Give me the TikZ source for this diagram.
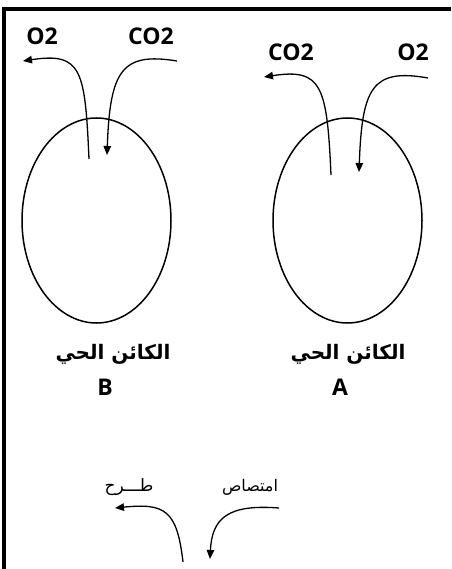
\documentclass[tikz,border=0pt]{standalone}
\usepackage{fontspec}
\setmainfont{Open Sans}
\newfontfamily\arabicfont[Script=Arabic]{DejaVu Sans}
\TeXXeTstate=1
\usetikzlibrary{shapes.geometric,arrows.meta}
\begin{document}
\begin{tikzpicture}[x=1pt,y=-1pt,
  organism/.style={draw,ellipse,line width=1.5pt,minimum width=149pt,minimum height=205pt,inner sep=0pt},
  gas/.style={font=\fontsize{23}{23}\selectfont\bfseries,inner sep=0pt},
  arlabel/.style={font=\arabicfont\fontsize{20}{20}\selectfont\bfseries,inner sep=0pt},
  letter/.style={font=\fontsize{23}{23}\selectfont\bfseries,inner sep=0pt},
  flow/.style={line width=1.3pt,-{Triangle[length=9pt,width=7.5pt]}}]
\useasboundingbox (0,0) rectangle (451,569);
\draw[line width=3.6pt] (4,569) -- (4,9) -- (451,9);
% organisms
\node[organism] (B) at (96.5,220.5) {};
\node[organism] (A) at (347.5,220.5) {};
% top labels
\node[gas] (bO2) at (42,36) {O2};
\node[gas] (bCO2) at (151,36) {CO2};
\node[gas] (aCO2) at (291,52) {CO2};
\node[gas] (aO2) at (413,52) {O2};
% organism labels
\node[arlabel] (bname) at (113,354) {\beginR الكائن الحي\endR};
\node[letter] (bletter) at (105,387) {B};
\node[arlabel] (aname) at (348,354) {\beginR الكائن الحي\endR};
\node[letter] (aletter) at (340,387) {A};
% arrows B
\coordinate (bOs) at (89,159);
\coordinate (bOe) at (23,61);
\coordinate (bCs) at (177,61);
\coordinate (bCe) at (107,155);
\draw[flow] (bOs) .. controls (85,70) and (82,52) .. (bOe);
\draw[flow] (bCs) .. controls (122,52) and (110,70) .. (bCe);
% arrows A
\coordinate (aCs) at (331,175);
\coordinate (aCe) at (264,77);
\coordinate (aOs) at (428,78);
\coordinate (aOe) at (359,172);
\draw[flow] (aCs) .. controls (327,86) and (322,68) .. (aCe);
\draw[flow] (aOs) .. controls (372,68) and (362,88) .. (aOe);
% legend
\node[font=\arabicfont\fontsize{17}{17}\selectfont,inner sep=0pt] (out) at (129,487) {\beginR طـــرح\endR};
\node[font=\arabicfont\fontsize{16}{16}\selectfont,inner sep=0pt] (in) at (250,487) {\beginR امتصاص\endR};
\coordinate (os) at (183,562);
\coordinate (oe) at (115,508);
\coordinate (is) at (279,508);
\coordinate (ie) at (210,559);
\draw[flow] (os) .. controls (177,510) and (165,503) .. (oe);
\draw[flow] (is) .. controls (228,504) and (212,518) .. (ie);
\end{tikzpicture}
\end{document}
